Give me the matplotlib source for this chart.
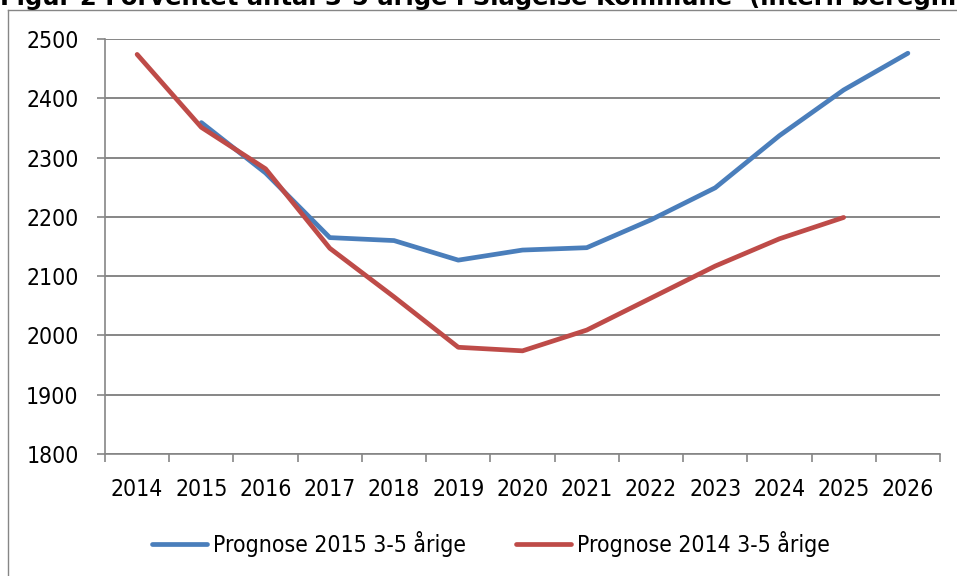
import matplotlib.pyplot as plt
from matplotlib import font_manager
from matplotlib.lines import Line2D

# values
years = ['2014', '2015', '2016', '2017', '2018', '2019', '2020',
         '2021', '2022', '2023', '2024', '2025', '2026']
prognose_2015 = [None, 2359, 2274, 2165, 2160, 2127, 2144, 2148, 2195, 2249, 2337, 2414, 2476]
prognose_2014 = [2474, 2351, 2281, 2147, 2065, 1980, 1974, 2009, 2063, 2117, 2163, 2199, None]
y_ticks = [1800, 1900, 2000, 2100, 2200, 2300, 2400, 2500]

title = 'Figur 2 Forventet antal 3-5 årige i Slagelse Kommune  (intern beregning)'
label_2015 = 'Prognose 2015 3-5 årige'
label_2014 = 'Prognose 2014 3-5 årige'

blue = '#4A7EBB'
red = '#BE4B48'
grid_col = '#868686'

# the original uses a narrow font; take a condensed one if the system has it
names = {f.name for f in font_manager.fontManager.ttflist}
cond = [f for f in font_manager.fontManager.ttflist
        if f.name == 'DejaVu Sans' and f.stretch in ('condensed', 'semi-condensed', 600, 500)]
if 'DejaVu Sans Condensed' in names:
    font, stretch, fs = ['DejaVu Sans Condensed', 'DejaVu Sans'], 'normal', 16.5
elif cond:
    font, stretch, fs = ['DejaVu Sans'], 'condensed', 16.5
else:
    font, stretch, fs = ['DejaVu Sans'], 'normal', 15

plt.rcParams['font.family'] = font
plt.rcParams['font.stretch'] = stretch

fig = plt.figure(figsize=(9.57, 5.76), dpi=100)
ax = fig.add_axes([105 / 957, 1 - 454 / 576, 835 / 957, 415 / 576])

x = list(range(len(years)))
xb = [i for i, v in zip(x, prognose_2015) if v is not None]
yb = [v for v in prognose_2015 if v is not None]
xr = [i for i, v in zip(x, prognose_2014) if v is not None]
yr = [v for v in prognose_2014 if v is not None]

ax.plot(xb, yb, color=blue, lw=3.4, solid_capstyle='round', solid_joinstyle='round',
        label=label_2015, zorder=3)
ax.plot(xr, yr, color=red, lw=3.4, solid_capstyle='round', solid_joinstyle='round',
        label=label_2014, zorder=4)

ax.set_xlim(-0.5, len(years) - 0.5)
ax.set_ylim(1800, 2500)
ax.set_yticks(y_ticks)
ax.set_yticklabels([str(t) for t in y_ticks], fontsize=fs)
ax.set_xticks(x)
ax.set_xticklabels(years, fontsize=fs)
ax.set_xticks([i - 0.5 for i in range(len(years) + 1)], minor=True)
ax.tick_params(axis='x', which='major', length=0, pad=17)
ax.tick_params(axis='x', which='minor', length=6, color=grid_col, width=1.2)
ax.tick_params(axis='y', length=6, color=grid_col, width=1.2, pad=13)

ax.grid(axis='y', color=grid_col, lw=1.4)
ax.set_axisbelow(True)
for s in ['top', 'right']:
    ax.spines[s].set_visible(False)
for s in ['left', 'bottom']:
    ax.spines[s].set_color(grid_col)
    ax.spines[s].set_linewidth(1.2)

fig.legend(loc='center', bbox_to_anchor=(491 / 957, 1 - 544 / 576), ncol=2, frameon=False,
           fontsize=fs, handlelength=2.4, handletextpad=0.25, columnspacing=2.2)

# chart frame (partly outside the picture)
fig.add_artist(Line2D([8 / 957, 8 / 957], [0, 1 - 10 / 576], transform=fig.transFigure,
                      color=grid_col, lw=1))
fig.add_artist(Line2D([8 / 957, 1], [1 - 10 / 576, 1 - 10 / 576], transform=fig.transFigure,
                      color=grid_col, lw=1))

# title sits mostly above the top edge, as in the original
fig.text(0.0, 1 - 5 / 576, title, fontsize=17.5, fontweight='bold',
         family=['DejaVu Sans'], fontstretch='normal', va='baseline', ha='left')

fig.savefig('out.png', dpi=100)
